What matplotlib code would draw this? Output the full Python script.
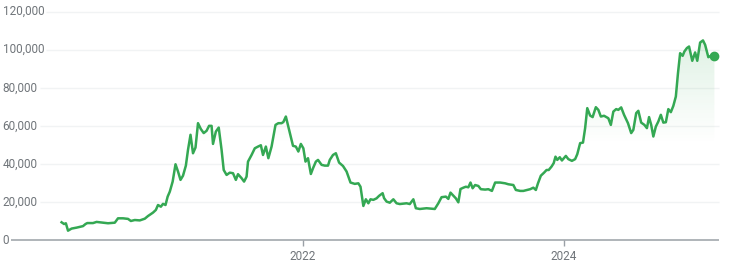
import numpy as np
import pandas as pd
import matplotlib
matplotlib.use("Agg")
import matplotlib.pyplot as plt
import matplotlib.dates as mdates
import matplotlib.transforms as mtransforms

# ---------------- data ----------------
dates_2020 = ["2020-02-25", "2020-03-03", "2020-03-08", "2020-03-14", "2020-03-24", "2020-04-07",
              "2020-04-25", "2020-05-02", "2020-05-07", "2020-05-23", "2020-06-02", "2020-06-20",
              "2020-07-04", "2020-07-23", "2020-08-01", "2020-08-15", "2020-08-29", "2020-09-06",
              "2020-09-17", "2020-10-01", "2020-10-15", "2020-10-24", "2020-11-07", "2020-11-15",
              "2020-11-21", "2020-11-29", "2020-12-05", "2020-12-12", "2020-12-18", "2020-12-24"]
prices_2020 = [9300, 8400, 8800, 4900, 6000, 6500, 7300, 8400, 8900, 8900, 9500, 9100,
               8800, 9100, 11400, 11400, 11100, 10000, 10500, 10300, 11200, 12600, 14400, 15800,
               18400, 17500, 19000, 18400, 22800, 25400]

dates_2021 = ["2021-01-01", "2021-01-09", "2021-01-16", "2021-01-23", "2021-01-30", "2021-02-07",
              "2021-02-13", "2021-02-20", "2021-02-27", "2021-03-06", "2021-03-13", "2021-03-21",
              "2021-03-29", "2021-04-06", "2021-04-13", "2021-04-20", "2021-04-24", "2021-05-02",
              "2021-05-10", "2021-05-18", "2021-05-24", "2021-06-01", "2021-06-10", "2021-06-19",
              "2021-06-27", "2021-07-03", "2021-07-13", "2021-07-20", "2021-07-27", "2021-07-31",
              "2021-08-10", "2021-08-19", "2021-08-28", "2021-09-05", "2021-09-11", "2021-09-19",
              "2021-09-26", "2021-10-05", "2021-10-16", "2021-10-24", "2021-11-02", "2021-11-07",
              "2021-11-14", "2021-11-23", "2021-12-04", "2021-12-12", "2021-12-19", "2021-12-26"]
prices_2021 = [30700, 39800, 36000, 31600, 33800, 39100, 47400, 55300, 45600, 48600, 61400, 58300,
               56200, 57400, 60000, 60000, 50500, 57000, 59100, 47400, 36800, 34200, 35400, 35100,
               31600, 34600, 32500, 30700, 33300, 41200, 44700, 48200, 49100, 49800, 44700, 49100,
               43000, 49100, 60500, 61400, 61400, 62000, 64900, 57900, 49500, 49100, 46500, 50500]

dates_2022 = ["2022-01-02", "2022-01-08", "2022-01-15", "2022-01-23", "2022-01-29", "2022-02-06",
              "2022-02-12", "2022-02-22", "2022-03-03", "2022-03-12", "2022-03-17", "2022-03-26",
              "2022-04-03", "2022-04-12", "2022-04-23", "2022-05-03", "2022-05-14", "2022-05-26",
              "2022-06-05", "2022-06-11", "2022-06-19", "2022-06-26", "2022-07-03", "2022-07-09",
              "2022-07-17", "2022-07-26", "2022-08-02", "2022-08-12", "2022-08-16", "2022-08-23",
              "2022-09-01", "2022-09-11", "2022-09-20", "2022-09-29", "2022-10-18", "2022-10-27",
              "2022-11-06", "2022-11-13", "2022-11-24", "2022-12-13"]
prices_2022 = [48200, 41200, 43000, 34700, 37700, 41200, 42100, 39500, 39100, 39100, 42100, 44700,
               45600, 40700, 38900, 36000, 30200, 29500, 29800, 28000, 17900, 21400, 19300, 21400,
               21100, 21900, 23200, 24600, 22000, 20200, 19600, 21400, 19300, 18900, 19300, 18900,
               21400, 16700, 16300, 16700]

dates_2023 = ["2023-01-05", "2023-01-15", "2023-01-24", "2023-02-05", "2023-02-12", "2023-02-18",
              "2023-02-26", "2023-03-05", "2023-03-12", "2023-03-18", "2023-03-26", "2023-04-02",
              "2023-04-09", "2023-04-15", "2023-04-21", "2023-04-28", "2023-05-07", "2023-05-14",
              "2023-05-26", "2023-06-04", "2023-06-14", "2023-06-23", "2023-07-07", "2023-07-21",
              "2023-07-30", "2023-08-13", "2023-08-20", "2023-09-01", "2023-09-10", "2023-09-20",
              "2023-09-29", "2023-10-08", "2023-10-15", "2023-10-21", "2023-10-29", "2023-11-07",
              "2023-11-14", "2023-11-20", "2023-11-28", "2023-12-04", "2023-12-09", "2023-12-14",
              "2023-12-21", "2023-12-27"]
prices_2023 = [16300, 19300, 22500, 22800, 21600, 24900, 23300, 21900, 19800, 26800, 27500, 28000,
               27700, 30200, 27200, 28900, 28400, 26700, 26500, 26700, 25800, 30200, 30200, 29800,
               29300, 28900, 26300, 25800, 25800, 26300, 26700, 27500, 26300, 29800, 33800, 35400,
               36800, 36800, 38600, 40400, 43800, 42100, 43500, 41800]

dates_2024 = ["2024-01-07", "2024-01-14", "2024-01-24", "2024-02-02", "2024-02-08", "2024-02-16",
              "2024-02-24", "2024-03-01", "2024-03-07", "2024-03-15", "2024-03-22", "2024-03-31",
              "2024-04-07", "2024-04-14", "2024-04-23", "2024-05-05", "2024-05-12", "2024-05-19",
              "2024-05-27", "2024-06-02", "2024-06-10", "2024-06-18", "2024-06-29", "2024-07-08",
              "2024-07-14", "2024-07-22", "2024-07-28", "2024-08-05", "2024-08-14", "2024-08-21",
              "2024-08-27", "2024-09-02", "2024-09-08", "2024-09-15", "2024-09-22", "2024-09-29",
              "2024-10-06", "2024-10-13", "2024-10-20", "2024-10-27", "2024-11-03", "2024-11-10",
              "2024-11-16", "2024-11-22", "2024-11-29", "2024-12-04", "2024-12-11", "2024-12-17",
              "2024-12-26"]
prices_2024 = [44200, 42500, 41600, 42500, 45100, 50900, 51200, 58800, 69300, 65400, 64600, 69800,
               68400, 64900, 65300, 64000, 60500, 67500, 68800, 68400, 69700, 65800, 61400, 56200,
               57900, 66700, 67900, 61700, 60500, 58800, 64600, 60500, 54400, 59600, 62300, 65800,
               61700, 61900, 68800, 67200, 70500, 75400, 87700, 98200, 96800, 99100, 100900, 101700,
               94200]

dates_2025 = ["2025-01-03", "2025-01-09", "2025-01-17", "2025-01-25", "2025-01-31", "2025-02-09",
              "2025-02-16", "2025-02-26"]
prices_2025 = [98600, 94200, 103800, 104900, 102600, 96100, 96800, 96500]

y_ticks = [0, 20000, 40000, 60000, 80000, 100000, 120000]
y_tick_labels = ["0", "20,000", "40,000", "60,000", "80,000", "100,000", "120,000"]
x_ticks = ["2022-01-01", "2024-01-01"]
x_tick_labels = ["2022", "2024"]

dates = pd.to_datetime(dates_2020 + dates_2021 + dates_2022 + dates_2023 + dates_2024 + dates_2025)
prices = np.array(prices_2020 + prices_2021 + prices_2022 + prices_2023 + prices_2024 + prices_2025,
                  dtype=float)
assert len(dates) == len(prices)

# ---------------- style ----------------
LINE = "#34a853"
LABEL = "#70757a"
GRID = "#f1f3f4"
AXIS = "#9aa0a6"
plt.rcParams["font.family"] = ["Roboto", "DejaVu Sans"]

W, H = 737, 262
fig = plt.figure(figsize=(W / 100, H / 100), dpi=100)
ax_left_px, ax_right_px = 0, 719
ax_bot_px, ax_top_px = 240, 11.7
ax = fig.add_axes([ax_left_px / W, (H - ax_bot_px) / H,
                   (ax_right_px - ax_left_px) / W, (ax_bot_px - ax_top_px) / H])
ax.set_facecolor("none")
for s in ax.spines.values():
    s.set_visible(False)

# x-limits such that 2022-01-01 sits at px 303 and 2024-01-01 at px 563.7
d2022 = mdates.date2num(pd.Timestamp("2022-01-01"))
d2024 = mdates.date2num(pd.Timestamp("2024-01-01"))
px_per_day = (563.7 - 303) / (d2024 - d2022)
xmin = d2022 - (303 - ax_left_px) / px_per_day
xmax = d2022 + (ax_right_px - 303) / px_per_day

xd = mdates.date2num(dates)

# gradient fill under the line
ys = np.linspace(0, 120000, 400)
alpha = 0.17 * np.clip((ys - 50000) / (108000 - 50000), 0, 1) ** 1.1
rgba = np.zeros((len(ys), 1, 4))
rgba[..., 0] = 52 / 255
rgba[..., 1] = 168 / 255
rgba[..., 2] = 83 / 255
rgba[:, 0, 3] = alpha
im = ax.imshow(rgba, extent=[xmin, xmax, 0, 120000], origin="lower", aspect="auto",
               zorder=1, interpolation="bilinear")
poly = ax.fill_between(xd, prices, 0, color="none", linewidth=0)
im.set_clip_path(poly.get_paths()[0], transform=ax.transData)

ax.plot(xd, prices, color=LINE, lw=1.8, solid_joinstyle="round", zorder=3)
ax.plot([xd[-1]], [prices[-1]], "o", color=LINE, ms=6, zorder=4)

ax.set_xlim(xmin, xmax)
ax.set_ylim(0, 120000)
ax.set_yticks([])
xt = mdates.date2num(pd.to_datetime(x_ticks))
ax.set_xticks(xt)
ax.set_xticklabels(x_tick_labels)
ax.tick_params(axis="x", length=4.5, width=1, color=AXIS, labelcolor=LABEL,
               labelsize=8.5, pad=3)

blend = mtransforms.blended_transform_factory(ax.transAxes, ax.transData)
labels = []
for v, lab in zip(y_ticks, y_tick_labels):
    t = ax.text(2.7 / (ax_right_px - ax_left_px), v, lab, transform=blend, ha="left",
                va="center", color=LABEL, fontsize=8.5)
    labels.append(t)

fig.canvas.draw()
renderer = fig.canvas.get_renderer()
for v, t in zip(y_ticks, labels):
    ext = t.get_window_extent(renderer)
    x0 = (ext.x1 + 2 - ax_left_px) / (ax_right_px - ax_left_px)
    if v == 0:
        ax.plot([x0, 1], [v, v], transform=blend, color=AXIS, lw=1.1, zorder=2,
                clip_on=False, solid_capstyle="butt")
    else:
        ax.plot([x0, 1], [v, v], transform=blend, color=GRID, lw=1.0, zorder=0,
                clip_on=False, solid_capstyle="butt")

fig.savefig("out.png", dpi=100)
